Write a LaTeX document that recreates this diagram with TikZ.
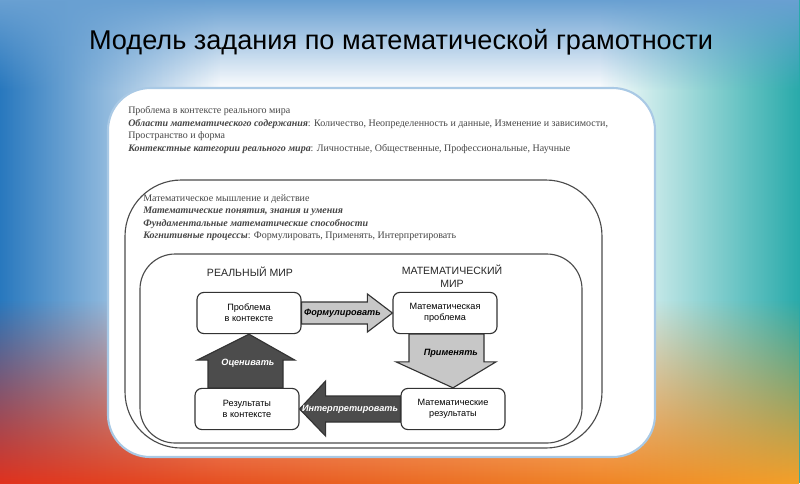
\documentclass[tikz,border=0pt]{standalone}
\usepackage{fontspec}
\setmainfont{Liberation Serif}
\setsansfont{Liberation Sans}
\usetikzlibrary{positioning,fadings,calc}
\definecolor{bgblue}{RGB}{40,120,190}
\definecolor{bgred}{RGB}{225,50,30}
\definecolor{bgorange}{RGB}{245,160,40}
\definecolor{bgteal}{RGB}{40,170,170}
\definecolor{txtgray}{RGB}{70,70,70}
\tikzset{
  stepbox/.style={draw=black!80, rounded corners=5pt, fill=white, thick,
    minimum width=2.6cm, minimum height=1.03cm, align=center,
    font=\sffamily\fontsize{6.5}{8}\selectfont},
  arrowtext/.style={font=\sffamily\bfseries\itshape\fontsize{6.5}{8}\selectfont},
  lightarrow/.style={draw=black!80, thick, fill=black!22},
  darkarrow/.style={draw=black!80, thick, fill=black!70},
  worldlabel/.style={font=\sffamily\fontsize{7.5}{9}\selectfont, align=center, text=black!85},
  infoline/.style={anchor=base west, inner sep=0pt, text=txtgray,
    font=\fontsize{7.1}{8}\selectfont},
}
\begin{document}
\begin{tikzpicture}[x=0.025cm,y=-0.025cm]
  \useasboundingbox (0,0) rectangle (800,483);
  % background
  \fill[white] (0,0) rectangle (800,483);
  \fill[bgblue, path fading=east] (0,0) rectangle (220,483);
  \fill[bgteal, path fading=west] (600,0) rectangle (800,483);
  \fill[bgblue!70, path fading=south] (0,0) rectangle (800,90);
  \shade[left color=bgred, right color=bgorange, path fading=north] (0,300) rectangle (800,483);
  % title
  \node (title) at (401,42) {\sffamily\fontsize{19.3}{22}\selectfont Модель задания по математической грамотности};
  % frames
  \draw[line width=1.5pt, draw=bgblue!40, fill=white, rounded corners=30pt] (108,88) rectangle (655,457);
  \draw[black!70, thick, rounded corners=40pt] (125,180) rectangle (602,448);
  \draw[black!70, thick, rounded corners=25pt] (140,254) rectangle (582,443);
  % upper text
  \node[infoline] (p1) at (128,113) {Проблема в контексте реального мира};
  \node[infoline] (p2) at (128,126) {\textbf{\textit{Области математического содержания}}: Количество, Неопределенность и данные, Изменение и зависимости,};
  \node[infoline] (p3) at (128,138) {Пространство и форма};
  \node[infoline] (p4) at (128,151) {\textbf{\textit{Контекстные категории реального мира}}: Личностные, Общественные, Профессиональные, Научные};
  \node[infoline] (m1) at (143,201) {Математическое мышление и действие};
  \node[infoline] (m2) at (143,213) {\textbf{\textit{Математические понятия, знания и умения}}};
  \node[infoline] (m3) at (143,226) {\textbf{\textit{Фундаментальные математические способности}}};
  \node[infoline] (m4) at (143,238) {\textbf{\textit{Когнитивные процессы}}: Формулировать, Применять, Интерпретировать};
  % cycle
  \node[worldlabel] (real) at (250,272) {РЕАЛЬНЫЙ МИР};
  \node[worldlabel] (math) at (452,276) {МАТЕМАТИЧЕСКИЙ\\МИР};
  \node[stepbox] (prob) at (249,313) {Проблема\\в контексте};
  \node[stepbox] (mprob) at (445,313) {Математическая\\проблема};
  \node[stepbox] (res) at (247,409) {Результаты\\в контексте};
  \node[stepbox] (mres) at (453,409) {Математические\\результаты};
  % fat arrows
  \draw[lightarrow] ($(prob.east)+(0,-11)$) -- ($(mprob.west)+(-25,-11)$) -- ($(mprob.west)+(-25,-19)$)
    -- (mprob.west) -- ($(mprob.west)+(-25,19)$) -- ($(mprob.west)+(-25,11)$) -- ($(prob.east)+(0,11)$) -- cycle;
  \node[arrowtext] (formul) at ($(prob.east)!0.45!(mprob.west)$) {Формулировать};
  \draw[lightarrow] ($(mprob.south)+(-36,0)$) -- ($(mprob.south)+(39,0)$) -- ($(mres.north)+(31,-26)$) -- ($(mres.north)+(43,-26)$)
    -- (mres.north) -- ($(mres.north)+(-57,-26)$) -- ($(mres.north)+(-44,-26)$) -- cycle;
  \node[arrowtext] (apply) at ($(mprob.south)!0.35!(mres.north)+(3,0)$) {Применять};
  \draw[darkarrow] ($(res.north)+(-39,0)$) -- ($(res.north)+(36,0)$) -- ($(prob.south)+(34,26)$) -- ($(prob.south)+(46,26)$)
    -- (prob.south) -- ($(prob.south)+(-52,26)$) -- ($(prob.south)+(-41,26)$) -- cycle;
  \node[arrowtext, text=white] (evalu) at ($(prob.south)!0.55!(res.north)$) {Оценивать};
  \draw[darkarrow] ($(mres.west)+(0,-13)$) -- ($(res.east)+(26,-13)$) -- ($(res.east)+(26,-28)$)
    -- (res.east) -- ($(res.east)+(26,27)$) -- ($(res.east)+(26,13)$) -- ($(mres.west)+(0,13)$) -- cycle;
  \node[arrowtext, text=white] (interp) at ($(res.east)!0.5!(mres.west)$) {Интерпретировать};
\end{tikzpicture}
\end{document}
